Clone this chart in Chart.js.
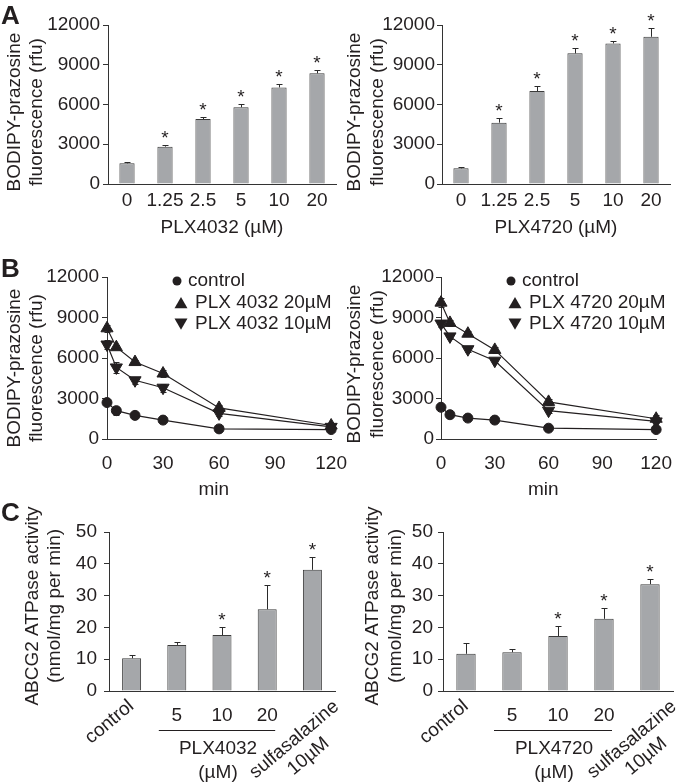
<!DOCTYPE html>
<html>
<head>
<meta charset="utf-8">
<title>PLX4032 / PLX4720 and ABCG2</title>
<script src="https://cdn.jsdelivr.net/npm/chart.js@4/dist/chart.umd.min.js"></script>
<style>
  body { margin: 0; background: #fff; }
  #fig { position: relative; width: 685px; height: 782px; overflow: hidden; }
  #fig canvas { position: absolute; }
  .panel {
    position: absolute; z-index: 2; color: #231f20;
    font: bold 26px/26px "Liberation Sans", Arial, sans-serif;
  }
</style>
</head>
<body>
<div id="fig">
  <canvas id="a1" width="340" height="250" style="left:0;top:0"></canvas>
  <canvas id="a2" width="345" height="250" style="left:340px;top:0"></canvas>
  <canvas id="b1" width="360" height="260" style="left:0;top:250px"></canvas>
  <canvas id="b2" width="345" height="260" style="left:340px;top:250px"></canvas>
  <canvas id="c1" width="360" height="282" style="left:0;top:500px"></canvas>
  <canvas id="c2" width="345" height="282" style="left:340px;top:500px"></canvas>
  <div class="panel" style="left:1px;top:2px">A</div>
  <div class="panel" style="left:1px;top:255px">B</div>
  <div class="panel" style="left:1px;top:499px">C</div>
</div>
<script>
const FONT = '"Liberation Sans", Arial, Helvetica, sans-serif';
const INK = '#231f20';
const AXIS = '#333333';
const BAR_FILL = '#a5a7aa';
const BAR_EDGE = '#3c3c3c';
const TXT = { family: FONT, size: 19 };

Chart.defaults.font.family = FONT;
Chart.defaults.font.size = 19;
Chart.defaults.color = INK;

// A - accumulation of BODIPY-prazosine
const doseLabels = ['0', '1.25', '2.5', '5', '10', '20'];
const accum4032 = [1560, 2820, 4900, 5790, 7290, 8350];
const accum4032Err = [100, 120, 170, 220, 250, 250];
const accum4720 = [1180, 4630, 7020, 9860, 10610, 11110];
const accum4720Err = [120, 330, 380, 380, 200, 700];
const accumStars = [false, true, true, true, true, true];
const fluorTicks = [0, 3000, 6000, 9000, 12000];

// B - efflux over time
const minutes = [0, 5, 15, 30, 60, 120];
const minuteTicks = [0, 30, 60, 90, 120];
const names4032 = ['control', 'PLX 4032 20µM', 'PLX 4032 10µM'];
const names4720 = ['control', 'PLX 4720 20µM', 'PLX 4720 10µM'];
const efflux4032Ctrl = [2700, 2100, 1750, 1400, 750, 700];
const efflux4032Hi = [8200, 6800, 5700, 4850, 2300, 1000];
const efflux4032Lo = [7000, 5300, 4350, 3800, 1900, 900];
const efflux4032CtrlErr = [150, 300, 100, 100, 80, 80];
const efflux4032HiErr = [250, 150, 150, 250, 200, 150];
const efflux4032LoErr = [300, 420, 250, 300, 200, 150];
const efflux4720Ctrl = [2350, 1800, 1550, 1400, 800, 700];
const efflux4720Hi = [10100, 8600, 7800, 6600, 2750, 1500];
const efflux4720Lo = [8550, 7600, 6650, 5800, 2100, 1300];
const efflux4720CtrlErr = [150, 150, 100, 100, 80, 80];
const efflux4720HiErr = [350, 200, 200, 200, 200, 250];
const efflux4720LoErr = [250, 200, 200, 200, 150, 150];

// C - ABCG2 ATPase activity
const atpaseLabels = ['control', '5', '10', '20', ['sulfasalazine', '10µM']];
const atpase4032 = [10.3, 14.5, 17.6, 25.7, 38.1];
const atpase4032Err = [1.0, 0.9, 2.5, 7.5, 4.0];
const atpase4720 = [11.7, 12.2, 17.3, 22.7, 33.6];
const atpase4720Err = [3.3, 0.9, 3.2, 3.4, 1.6];
const atpaseStars = [false, false, true, true, true];
const atpaseTicks = [0, 10, 20, 30, 40, 50];
const drugNames = ['PLX4032', 'PLX4720'];

const fluorTitle = ['BODIPY-prazosine', 'fluorescence (rfu)'];
const atpaseTitle = ['ABCG2 ATPase activity', '(nmol/mg per min)'];

// rotated two-line y titles (drawn by hand so long text is not squeezed)
function yTitle(lines, xs, cy) {
  return {
    id: 'yTitle',
    afterDraw(chart) {
      const ctx = chart.ctx;
      ctx.save();
      ctx.font = '19px ' + FONT;
      ctx.fillStyle = INK;
      ctx.textAlign = 'center';
      ctx.textBaseline = 'middle';
      lines.forEach((line, i) => {
        ctx.save();
        ctx.translate(xs[i], cy);
        ctx.rotate(-Math.PI / 2);
        ctx.fillText(line, 0, 0);
        ctx.restore();
      });
      ctx.restore();
    }
  };
}

function valueOf(v) {
  return typeof v === 'object' ? v.y : v;
}

// error bars (up only for bars, both ways for points) and significance stars
function errorStars(errs, stars, both) {
  return {
    id: 'errorStars',
    beforeDatasetsDraw(chart) {
      if (both) this.drawBars(chart);
    },
    afterDatasetsDraw(chart) {
      if (!both) this.drawBars(chart);
      if (!stars) return;
      const ctx = chart.ctx, y = chart.scales.y;
      const ds = chart.data.datasets[0];
      ctx.save();
      ctx.font = '19px ' + FONT;
      ctx.fillStyle = INK;
      ctx.textAlign = 'center';
      ctx.textBaseline = 'alphabetic';
      chart.getDatasetMeta(0).data.forEach((el, i) => {
        if (!stars[i]) return;
        const top = y.getPixelForValue(valueOf(ds.data[i]) + errs[0][i]);
        ctx.fillText('*', el.x, top - 1);
      });
      ctx.restore();
    },
    drawBars(chart) {
      const ctx = chart.ctx, y = chart.scales.y;
      ctx.save();
      ctx.strokeStyle = '#2a2a2a';
      ctx.lineWidth = 1;
      chart.data.datasets.forEach((ds, di) => {
        const err = errs[di];
        if (!err) return;
        chart.getDatasetMeta(di).data.forEach((el, i) => {
          const v = valueOf(ds.data[i]);
          const x = Math.round(el.x) + 0.5;
          const top = Math.round(y.getPixelForValue(v + err[i])) + 0.5;
          const bot = both ? Math.round(y.getPixelForValue(v - err[i])) + 0.5 : el.y;
          ctx.beginPath();
          ctx.moveTo(x, bot);
          ctx.lineTo(x, top);
          ctx.moveTo(x - 3, top);
          ctx.lineTo(x + 3, top);
          if (both) {
            ctx.moveTo(x - 3, bot);
            ctx.lineTo(x + 3, bot);
          }
          ctx.stroke();
        });
      });
      ctx.restore();
    }
  };
}

function marker(ctx, style, x, y, r, rotDeg) {
  ctx.beginPath();
  if (style === 'circle') {
    ctx.arc(x, y, r, 0, Math.PI * 2);
  } else {
    let a = rotDeg * Math.PI / 180;
    ctx.moveTo(x + Math.sin(a) * r, y - Math.cos(a) * r);
    for (let k = 0; k < 2; k++) {
      a += 2 * Math.PI / 3;
      ctx.lineTo(x + Math.sin(a) * r, y - Math.cos(a) * r);
    }
    ctx.closePath();
  }
  ctx.fill();
}

// legend of panel B, text taken from the dataset labels
function effluxLegend() {
  const rows = [
    { style: 'circle', r: 4.5, rot: 0, mx: 70, tx: 81, y: 31 },
    { style: 'triangle', r: 7.5, rot: 0, mx: 74, tx: 88, y: 52.5 },
    { style: 'triangle', r: 7.5, rot: 180, mx: 74, tx: 88, y: 74 }
  ];
  return {
    id: 'effluxLegend',
    afterDraw(chart) {
      const ctx = chart.ctx, x0 = chart.chartArea.left;
      ctx.save();
      ctx.font = '19px ' + FONT;
      ctx.fillStyle = INK;
      ctx.textAlign = 'left';
      ctx.textBaseline = 'middle';
      rows.forEach((row, i) => {
        const shift = row.style === 'circle' ? 0 : (row.rot ? -row.r / 4 : row.r / 4);
        marker(ctx, row.style, x0 + row.mx, row.y + shift, row.r, row.rot);
        ctx.fillText(chart.data.datasets[i].label, x0 + row.tx, row.y);
      });
      ctx.restore();
    }
  };
}

// category labels of panel C: tilted control / sulfasalazine, grouped doses
function doseGroupAxis(drug) {
  return {
    id: 'doseGroupAxis',
    afterDraw(chart) {
      const ctx = chart.ctx, xs = chart.scales.x, base = chart.chartArea.bottom;
      const tilt = -40 * Math.PI / 180;
      ctx.save();
      ctx.font = '19px ' + FONT;
      ctx.fillStyle = INK;
      ctx.strokeStyle = INK;
      ctx.textAlign = 'center';
      ctx.textBaseline = 'middle';
      chart.data.labels.forEach((lab, i) => {
        const x = xs.getPixelForValue(i);
        const lines = [].concat(lab);
        if (i >= 1 && i <= 3) {
          ctx.fillText(lines[0], x, base + 25);
          return;
        }
        const c = lines.length > 1 ? { dx: -11, dy: 57 } : { dx: -22, dy: 31 };
        ctx.save();
        ctx.translate(x + c.dx, base + c.dy);
        ctx.rotate(tilt);
        lines.forEach((ln, k) => ctx.fillText(ln, 0, (k - (lines.length - 1) / 2) * 22));
        ctx.restore();
      });
      const a = xs.getPixelForValue(1), b = xs.getPixelForValue(3);
      ctx.lineWidth = 1;
      ctx.beginPath();
      ctx.moveTo(a - 18, Math.round(base + 39) + 0.5);
      ctx.lineTo(b + 8, Math.round(base + 39) + 0.5);
      ctx.stroke();
      const mid = (a + b) / 2 - 4;
      ctx.fillText(drug, mid, base + 58);
      ctx.fillText('(µM)', mid, base + 82);
      ctx.restore();
    }
  };
}

function yAxis(ticks, width, tickLen, pad) {
  return {
    min: ticks[0],
    max: ticks[ticks.length - 1],
    afterBuildTicks(s) { s.ticks = ticks.map(v => ({ value: v })); },
    afterFit(s) { s.width = width; },
    ticks: { padding: pad, color: INK, font: TXT, callback: v => String(v) },
    grid: { display: true, drawOnChartArea: false, drawTicks: true, tickLength: tickLen, color: AXIS, tickColor: AXIS },
    border: { display: true, color: AXIS, width: 1 }
  };
}

function baseOptions(pad, scales) {
  return {
    responsive: false,
    animation: false,
    devicePixelRatio: 1,
    layout: { padding: pad },
    plugins: { legend: { display: false }, tooltip: { enabled: false } },
    scales
  };
}

function accumChart(id, values, errs, drug, cfg) {
  return new Chart(document.getElementById(id), {
    type: 'bar',
    data: {
      labels: doseLabels,
      datasets: [{
        data: values,
        backgroundColor: BAR_FILL,
        borderColor: BAR_EDGE,
        borderWidth: 1,
        barPercentage: 0.4,
        categoryPercentage: 1
      }]
    },
    options: baseOptions(cfg.pad, {
      x: {
        afterFit(s) { s.height = 66; },
        ticks: { padding: 5, color: INK, font: TXT, maxRotation: 0, minRotation: 0, autoSkip: false },
        grid: { display: false, drawTicks: false },
        border: { display: true, color: AXIS, width: 1 },
        title: { display: true, text: drug + ' (µM)', color: INK, font: TXT, padding: { top: 0, bottom: 11 } }
      },
      y: yAxis(fluorTicks, cfg.yWidth, 5, cfg.tickPad)
    }),
    plugins: [yTitle(fluorTitle, cfg.titleX, 112), errorStars([errs], accumStars, false)]
  });
}

function effluxChart(id, names, ctrl, hi, lo, errs, cfg) {
  const pts = arr => minutes.map((t, i) => ({ x: t, y: arr[i] }));
  const series = (label, arr, style, r, rot) => ({
    label,
    data: pts(arr),
    borderColor: INK,
    backgroundColor: INK,
    borderWidth: 1.2,
    pointStyle: style,
    pointRadius: r,
    pointRotation: rot,
    pointBorderWidth: 1,
    pointBorderColor: INK,
    pointBackgroundColor: INK,
    tension: 0,
    fill: false,
    clip: false
  });
  return new Chart(document.getElementById(id), {
    type: 'line',
    data: {
      datasets: [
        series(names[0], ctrl, 'circle', 5, 0),
        series(names[1], hi, 'triangle', 7, 0),
        series(names[2], lo, 'triangle', 7, 180)
      ]
    },
    options: baseOptions(cfg.pad, {
      x: {
        type: 'linear',
        min: minuteTicks[0],
        max: minuteTicks[minuteTicks.length - 1],
        afterBuildTicks(s) { s.ticks = minuteTicks.map(v => ({ value: v })); },
        afterFit(s) { s.height = 71; },
        ticks: { padding: 13, color: INK, font: TXT, maxRotation: 0, minRotation: 0, callback: v => String(v) },
        grid: { display: false, drawTicks: false },
        border: { display: true, color: AXIS, width: 1 },
        title: { display: true, text: 'min  ', color: INK, font: TXT, padding: { top: 0, bottom: 9 } }
      },
      y: yAxis(fluorTicks, cfg.yWidth, 5, cfg.tickPad)
    }),
    plugins: [yTitle(fluorTitle, cfg.titleX, cfg.titleY), errorStars(errs, null, true), effluxLegend()]
  });
}

function atpaseChart(id, values, errs, drug, cfg) {
  return new Chart(document.getElementById(id), {
    type: 'bar',
    data: {
      labels: atpaseLabels,
      datasets: [{
        data: values,
        backgroundColor: BAR_FILL,
        borderColor: BAR_EDGE,
        borderWidth: 1,
        barPercentage: 0.42,
        categoryPercentage: 1
      }]
    },
    options: baseOptions(cfg.pad, {
      x: {
        afterFit(s) { s.height = 91; },
        ticks: { display: false },
        grid: { display: false, drawTicks: false },
        border: { display: true, color: AXIS, width: 1 }
      },
      y: yAxis(atpaseTicks, cfg.yWidth, 5, cfg.tickPad)
    }),
    plugins: [yTitle(atpaseTitle, cfg.titleX, 106), errorStars([errs], atpaseStars, false), doseGroupAxis(drug)]
  });
}

accumChart('a1', accum4032, accum4032Err, drugNames[0],
  { pad: { left: 0, top: 25, right: 4, bottom: 0 }, yWidth: 108, tickPad: 3, titleX: [15, 37] });
accumChart('a2', accum4720, accum4720Err, drugNames[1],
  { pad: { left: 0, top: 25, right: 15, bottom: 0 }, yWidth: 102, tickPad: 2, titleX: [15, 37.5] });

effluxChart('b1', names4032, efflux4032Ctrl, efflux4032Hi, efflux4032Lo,
  [efflux4032CtrlErr, efflux4032HiErr, efflux4032LoErr],
  { pad: { left: 0, top: 27, right: 23, bottom: 0 }, yWidth: 107, tickPad: 3, titleX: [15, 37], titleY: 118 });
effluxChart('b2', names4720, efflux4720Ctrl, efflux4720Hi, efflux4720Lo,
  [efflux4720CtrlErr, efflux4720HiErr, efflux4720LoErr],
  { pad: { left: 0, top: 27, right: 15, bottom: 0 }, yWidth: 101, tickPad: 2, titleX: [15, 37.5], titleY: 114 });

atpaseChart('c1', atpase4032, atpase4032Err, drugNames[0],
  { pad: { left: 0, top: 32, right: 25, bottom: 0 }, yWidth: 109, tickPad: 7, titleX: [33, 55] });
atpaseChart('c2', atpase4720, atpase4720Err, drugNames[1],
  { pad: { left: 0, top: 32, right: 12, bottom: 0 }, yWidth: 103, tickPad: 5, titleX: [33, 56] });
</script>
</body>
</html>
